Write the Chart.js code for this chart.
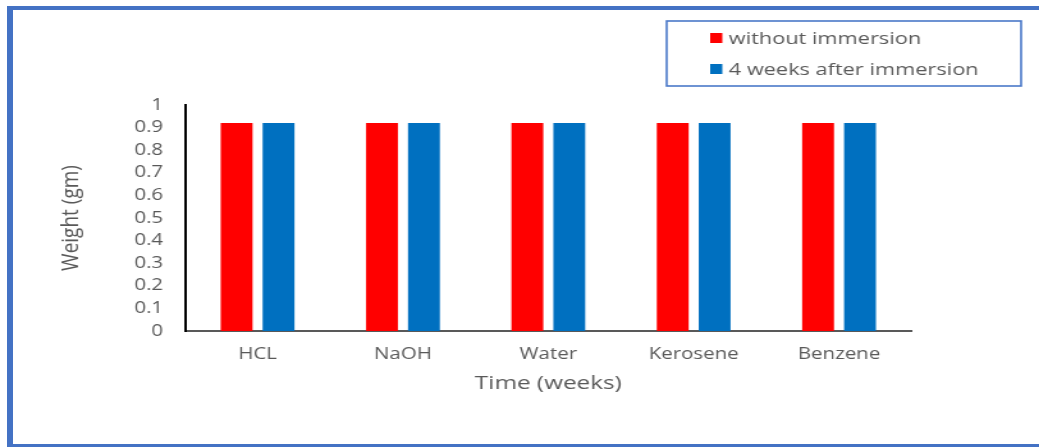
<!DOCTYPE html>
<html>
<head>
<meta charset="utf-8">
<script src="https://cdn.jsdelivr.net/npm/chart.js@4"></script>
<style>
  html, body { margin: 0; padding: 0; background: #fff; overflow: hidden; }
  #wrap { position: relative; width: 1039px; height: 448px; }
  #frame {
    position: absolute; left: 7px; top: 6px; width: 1100px; height: 434px;
    border-left: 6px solid #4472C4; border-top: 4px solid #4472C4; border-bottom: 3px solid #4472C4;
  }
  #chart { position: absolute; left: 0; top: 0; transform: scaleX(1.2796); transform-origin: 0 0; }
</style>
</head>
<body>
<div id="wrap">
  <div id="frame"></div>
  <canvas id="chart" width="812" height="448"></canvas>
</div>
<script>
// data
const categories = ["HCL", "NaOH", "Water", "Kerosene", "Benzene"];
const withoutImmersion = [0.92, 0.92, 0.92, 0.92, 0.92];
const afterImmersion = [0.92, 0.92, 0.92, 0.92, 0.92];
const seriesNames = ["without immersion", "4 weeks after immersion"];
const yTickLabels = ["0", "0.1", "0.2", "0.3", "0.4", "0.5", "0.6", "0.7", "0.8", "0.9", "1"];

const grey = "#595959";
const font = "'Open Sans', sans-serif";

// legend in a box, top right
const boxLegend = {
  id: "boxLegend",
  afterDraw(chart) {
    const ctx = chart.ctx;
    ctx.save();
    ctx.strokeStyle = "#4a78c8";
    ctx.lineWidth = 1.6;
    ctx.strokeRect(521, 21, 277, 65);
    ctx.font = "17px " + font;
    ctx.textBaseline = "middle";
    chart.data.datasets.forEach((ds, i) => {
      const y = 38 + i * 31;
      ctx.fillStyle = ds.backgroundColor;
      ctx.fillRect(555, y - 5, 9.5, 10);
      ctx.fillStyle = grey;
      ctx.fillText(ds.label, 569.5, y + 1);
    });
    ctx.restore();
  }
};

new Chart(document.getElementById("chart"), {
  type: "bar",
  data: {
    labels: categories,
    datasets: [
      { label: seriesNames[0], data: withoutImmersion, backgroundColor: "#FF0000" },
      { label: seriesNames[1], data: afterImmersion, backgroundColor: "#0070C0" }
    ]
  },
  options: {
    responsive: false,
    animation: false,
    devicePixelRatio: 1,
    categoryPercentage: 0.577,
    barPercentage: 0.76,
    layout: { autoPadding: false, padding: { left: 0, right: 99.5, top: 105, bottom: 0 } },
    plugins: { legend: { display: false }, tooltip: { enabled: false } },
    scales: {
      x: {
        grid: { display: false, drawTicks: false },
        border: { display: true, color: grey, width: 2 },
        ticks: { color: grey, font: { family: font, size: 16 }, padding: 14 },
        title: {
          display: true, text: "Time (weeks)", color: grey,
          font: { family: font, size: 19 }, padding: { top: 0, bottom: 52.6 }
        },
        afterFit(scale) { scale.height = 117; }
      },
      y: {
        min: 0, max: 1,
        grid: { display: false, drawTicks: false },
        border: { display: true, color: "#000", width: 2 },
        ticks: {
          stepSize: 0.1, color: grey, font: { family: font, size: 16 }, padding: 17,
          callback: (v, i) => yTickLabels[i]
        },
        title: {
          display: true, text: "Weight (gm)", color: grey,
          font: { family: font, size: 19 }, padding: { top: 44.6, bottom: 0 }
        },
        afterFit(scale) { scale.width = 144.5; }
      }
    }
  },
  plugins: [boxLegend]
});
</script>
</body>
</html>
